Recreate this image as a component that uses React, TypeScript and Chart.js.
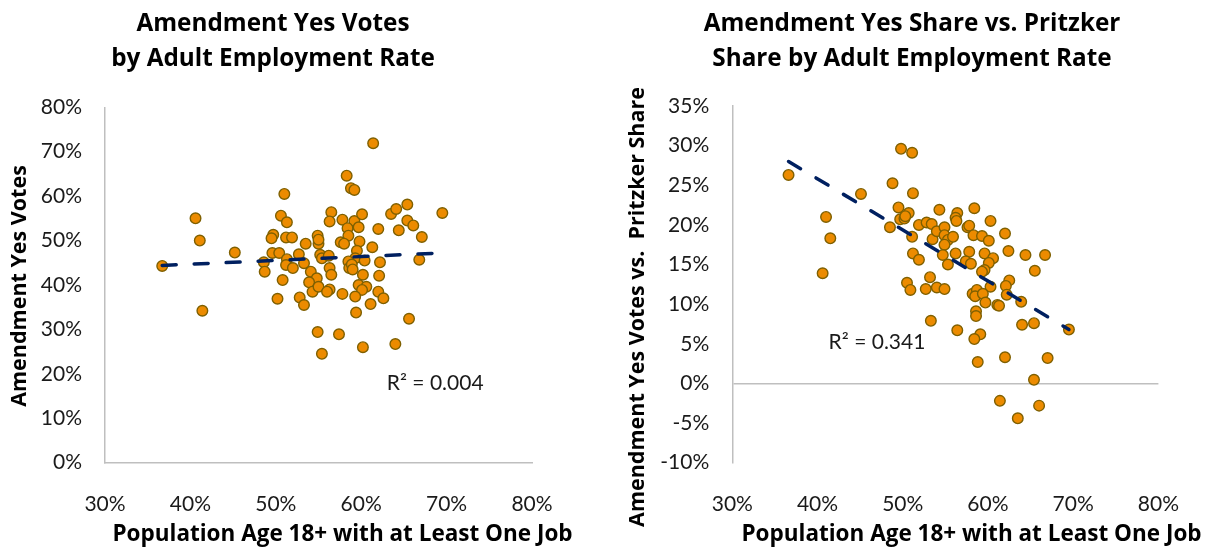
import React, { useEffect, useRef } from 'react';
import { Chart, registerables } from 'chart.js';

Chart.register(...registerables);

// ---------- data (percent values) ----------
const xTickValues = [30, 40, 50, 60, 70, 80];
const leftYTickValues = [0, 10, 20, 30, 40, 50, 60, 70, 80];
const rightYTickValues = [-10, -5, 0, 5, 10, 15, 20, 25, 30, 35];

const leftX = [61.4, 58.3, 58.8, 59.2, 51.0, 40.6, 41.1, 45.2, 36.7, 41.4, 50.6, 51.3, 49.7, 49.5, 51.2, 51.9, 49.6, 50.4, 48.6, 48.7, 51.3, 51.2, 52.0, 50.8, 50.2, 52.8, 53.3, 53.5, 52.7, 53.3, 54.1, 54.8, 53.9, 54.3, 55.0, 54.9, 55.0, 55.2, 55.4, 56.2, 56.3, 56.5, 56.3, 56.0, 56.5, 56.3, 54.9, 55.4, 57.4, 57.8, 57.8, 59.2, 58.4, 58.5, 59.7, 60.1, 57.6, 58.0, 59.8, 59.5, 61.3, 62.0, 59.3, 58.5, 58.6, 60.4, 60.2, 59.7, 60.6, 60.1, 59.3, 59.4, 60.2, 61.1, 62.2, 62.1, 62.0, 62.6, 63.5, 64.1, 65.4, 65.4, 66.1, 64.4, 67.1, 66.8, 69.5, 65.6, 64.0, 55.0, 58.9, 59.0];
const leftY = [71.9, 64.6, 61.8, 61.4, 60.5, 55.0, 50.0, 47.3, 44.3, 34.2, 55.6, 54.1, 51.3, 50.5, 50.7, 50.7, 47.2, 47.2, 45.1, 43.0, 45.8, 44.5, 43.8, 41.1, 36.9, 37.2, 35.5, 49.3, 46.9, 44.9, 43.0, 41.5, 40.6, 38.5, 39.6, 51.1, 49.3, 46.8, 46.0, 46.6, 43.8, 42.3, 39.0, 38.5, 56.4, 54.3, 29.4, 24.5, 28.9, 38.0, 54.7, 54.4, 52.8, 51.1, 53.0, 55.9, 49.6, 49.3, 49.8, 47.7, 48.5, 52.6, 46.0, 45.3, 43.8, 45.5, 42.3, 40.0, 39.6, 38.9, 37.4, 33.8, 26.0, 35.7, 45.1, 42.1, 38.5, 37.0, 56.0, 57.1, 58.1, 54.5, 53.4, 52.3, 50.8, 45.7, 56.2, 32.4, 26.7, 50.2, 44.6, 43.5];

const rightX = [49.8, 51.1, 36.6, 48.8, 51.2, 45.1, 41.0, 41.5, 40.6, 49.5, 50.7, 49.7, 50.2, 50.3, 48.5, 51.1, 51.2, 51.9, 50.5, 50.9, 53.2, 52.7, 54.0, 54.9, 53.3, 51.9, 52.8, 53.4, 54.3, 53.5, 54.0, 54.9, 54.9, 55.3, 54.9, 55.9, 54.7, 55.3, 56.2, 56.4, 56.2, 56.3, 57.6, 57.8, 58.4, 58.3, 59.3, 60.1, 60.3, 62.0, 57.8, 57.4, 58.0, 59.6, 60.6, 60.1, 59.6, 59.3, 62.4, 64.4, 66.7, 65.5, 60.3, 62.5, 62.1, 62.2, 63.9, 58.2, 58.7, 58.5, 59.4, 59.7, 61.1, 61.3, 58.6, 58.6, 64.0, 65.4, 69.5, 56.4, 59.1, 58.4, 58.8, 62.0, 67.0, 65.4, 61.4, 66.0, 63.5];
const rightY = [29.6, 29.1, 26.3, 25.25, 24.0, 23.9, 21.0, 18.3, 13.9, 22.2, 21.5, 20.7, 20.8, 21.1, 19.7, 18.5, 16.4, 15.6, 12.7, 11.8, 13.4, 11.9, 12.1, 11.9, 7.9, 20.0, 20.3, 20.1, 21.9, 18.2, 19.2, 19.7, 18.7, 18.1, 17.5, 18.5, 16.2, 15.0, 16.4, 21.5, 20.9, 20.5, 19.7, 19.9, 22.1, 18.7, 18.6, 18.0, 20.5, 18.9, 16.6, 15.4, 15.1, 16.4, 15.8, 15.2, 14.3, 14.1, 16.7, 16.2, 16.2, 14.2, 12.2, 13.0, 12.3, 11.2, 10.3, 11.3, 11.8, 11.0, 11.3, 10.2, 9.9, 9.8, 9.1, 8.5, 7.4, 7.6, 6.8, 6.7, 6.2, 5.6, 2.7, 3.3, 3.2, 0.45, -2.2, -2.8, -4.4];

// trendline end points
const leftTrendX = [36.7, 69.3];
const leftTrendY = [44.4, 47.2];
const rightTrendX = [36.6, 69.5];
const rightTrendY = [28.0, 6.8];

const leftR2 = 'R² = 0.004';
const rightR2 = 'R² = 0.341';

// ---------- styling ----------
const FONT = 'Lato';
const BOLD_FONT = '"Open Sans"';
const POINT_FILL = '#EC8B00';
const POINT_BORDER = '#7F6000';
const TREND = '#002060';
const AXIS = '#BFBFBF';
const TEXT = '#1a1a1a';

const zip = (xs: number[], ys: number[]) => xs.map((x, i) => ({ x, y: ys[i] }));

const textPlugin = {
  id: 'extraText',
  afterDatasetsDraw(chart: any, _args: any, opts: any) {
    const { ctx } = chart;
    for (const t of opts.items || []) {
      ctx.save();
      ctx.font = t.font;
      ctx.fillStyle = t.color || TEXT;
      let x = t.x;
      let y = t.y;
      if (t.data) {
        x = chart.scales.x.getPixelForValue(t.data[0]);
        y = chart.scales.y.getPixelForValue(t.data[1]);
      }
      ctx.translate(x, y);
      if (t.rotate) ctx.rotate(t.rotate);
      ctx.textAlign = t.align || 'center';
      ctx.textBaseline = t.baseline || 'alphabetic';
      ctx.fillText(t.text, 0, 0);
      ctx.restore();
    }
  },
};

interface Cfg {
  title: string[];
  xs: number[];
  ys: number[];
  tx: number[];
  ty: number[];
  yTicks: number[];
  yMin: number;
  yMax: number;
  padLeft: number;
  padRight: number;
  yWidth: number;
  titleBottom: number;
  zeroLine: boolean;
  xTitle: string;
  xTitleX: number;
  yTitle: string;
  yTitleX: number;
  yTitleY: number;
  r2: string;
  r2At: number[];
}

function makeChart(canvas: HTMLCanvasElement, c: Cfg) {
  const tickFont = { family: FONT, size: 21, lineHeight: 1.2 };
  return new Chart(canvas, {
    type: 'scatter',
    data: {
      datasets: [
        {
          type: 'line',
          data: zip(c.tx, c.ty),
          borderColor: TREND,
          borderWidth: 3.5,
          borderDash: [14, 18],
          borderCapStyle: 'round',
          pointRadius: 0,
          fill: false,
          tension: 0,
          order: 0,
        } as any,
        {
          data: zip(c.xs, c.ys),
          backgroundColor: POINT_FILL,
          borderColor: POINT_BORDER,
          borderWidth: 1.4,
          pointRadius: 5.3,
          order: 1,
        },
      ],
    },
    options: {
      animation: false,
      responsive: false,
      events: [],
      layout: { padding: { left: c.padLeft, right: c.padRight, top: 0, bottom: 0 } },
      plugins: {
        legend: { display: false },
        tooltip: { enabled: false },
        title: {
          display: true,
          text: c.title,
          color: '#000',
          font: { family: BOLD_FONT, size: 24.3, weight: 'bold', lineHeight: 1.44 },
          padding: { top: 6.3, bottom: c.titleBottom },
        },
        extraText: {
          items: [
            { text: c.xTitle, font: `bold 22.5px ${BOLD_FONT}`, x: c.xTitleX, y: 541, color: '#000' },
            { text: c.yTitle, font: `bold 21.5px ${BOLD_FONT}`, x: c.yTitleX, y: c.yTitleY, rotate: -Math.PI / 2, color: '#000' },
            { text: c.r2, font: `21px ${FONT}`, data: c.r2At, align: 'left', color: TEXT },
          ],
        },
      } as any,
      scales: {
        x: {
          type: 'linear',
          min: 30,
          max: 80,
          afterBuildTicks: (s: any) => {
            s.ticks = xTickValues.map((v) => ({ value: v }));
          },
          afterFit: (s: any) => {
            s.height = 85.3;
          },
          ticks: {
            callback: (v: any) => `${v}%`,
            font: tickFont,
            color: TEXT,
            padding: 29,
            maxRotation: 0,
            autoSkip: false,
          },
          grid: { display: false, drawTicks: false },
          border: { display: !c.zeroLine, color: AXIS, width: 1.5 },
        },
        y: {
          type: 'linear',
          min: c.yMin,
          max: c.yMax,
          afterBuildTicks: (s: any) => {
            s.ticks = c.yTicks.map((v) => ({ value: v }));
          },
          afterFit: (s: any) => {
            s.width = c.yWidth;
          },
          ticks: {
            callback: (v: any) => `${v}%`,
            font: tickFont,
            color: TEXT,
            padding: 23,
            autoSkip: false,
          },
          grid: {
            display: c.zeroLine,
            drawTicks: false,
            lineWidth: 1.5,
            color: (ctx: any) => (ctx.tick && ctx.tick.value === 0 ? AXIS : 'rgba(0,0,0,0)'),
          },
          border: { display: true, color: AXIS, width: 1.5 },
        },
      },
    },
    plugins: [textPlugin as any],
  });
}

export default function App() {
  const leftRef = useRef<HTMLCanvasElement>(null);
  const rightRef = useRef<HTMLCanvasElement>(null);

  useEffect(() => {
    const a = makeChart(leftRef.current!, {
      title: ['Amendment Yes Votes', 'by Adult Employment Rate'],
      xs: leftX,
      ys: leftY,
      tx: leftTrendX,
      ty: leftTrendY,
      yTicks: leftYTickValues,
      yMin: 0,
      yMax: 80,
      padLeft: 14,
      padRight: 72,
      yWidth: 91,
      titleBottom: 31,
      zeroLine: false,
      xTitle: 'Population Age 18+ with at Least One Job',
      xTitleX: 342.5,
      yTitle: 'Amendment Yes Votes',
      yTitleX: 26,
      yTitleY: 286,
      r2: leftR2,
      r2At: [63.0, 16.4],
    });
    const b = makeChart(rightRef.current!, {
      title: ['Amendment Yes Share vs. Pritzker', 'Share by Adult Employment Rate'],
      xs: rightX,
      ys: rightY,
      tx: rightTrendX,
      ty: rightTrendY,
      yTicks: rightYTickValues,
      yMin: -10,
      yMax: 35,
      padLeft: 41,
      padRight: 29,
      yWidth: 87.3,
      titleBottom: 29.7,
      zeroLine: true,
      xTitle: 'Population Age 18+ with at Least One Job',
      xTitleX: 367.5,
      yTitle: 'Amendment Yes Votes vs.  Pritzker Share',
      yTitleX: 40,
      yTitleY: 307,
      r2: rightR2,
      r2At: [41.3, 4.35],
    });
    return () => {
      a.destroy();
      b.destroy();
    };
  }, []);

  return (
    <div style={{ position: 'fixed', left: 0, top: 0, width: 1208, height: 548, background: '#fff', overflow: 'hidden' }}>
      <canvas ref={leftRef} width={604} height={548} style={{ position: 'absolute', left: 0, top: 0 }} />
      <canvas ref={rightRef} width={604} height={548} style={{ position: 'absolute', left: 604, top: 0 }} />
    </div>
  );
}
